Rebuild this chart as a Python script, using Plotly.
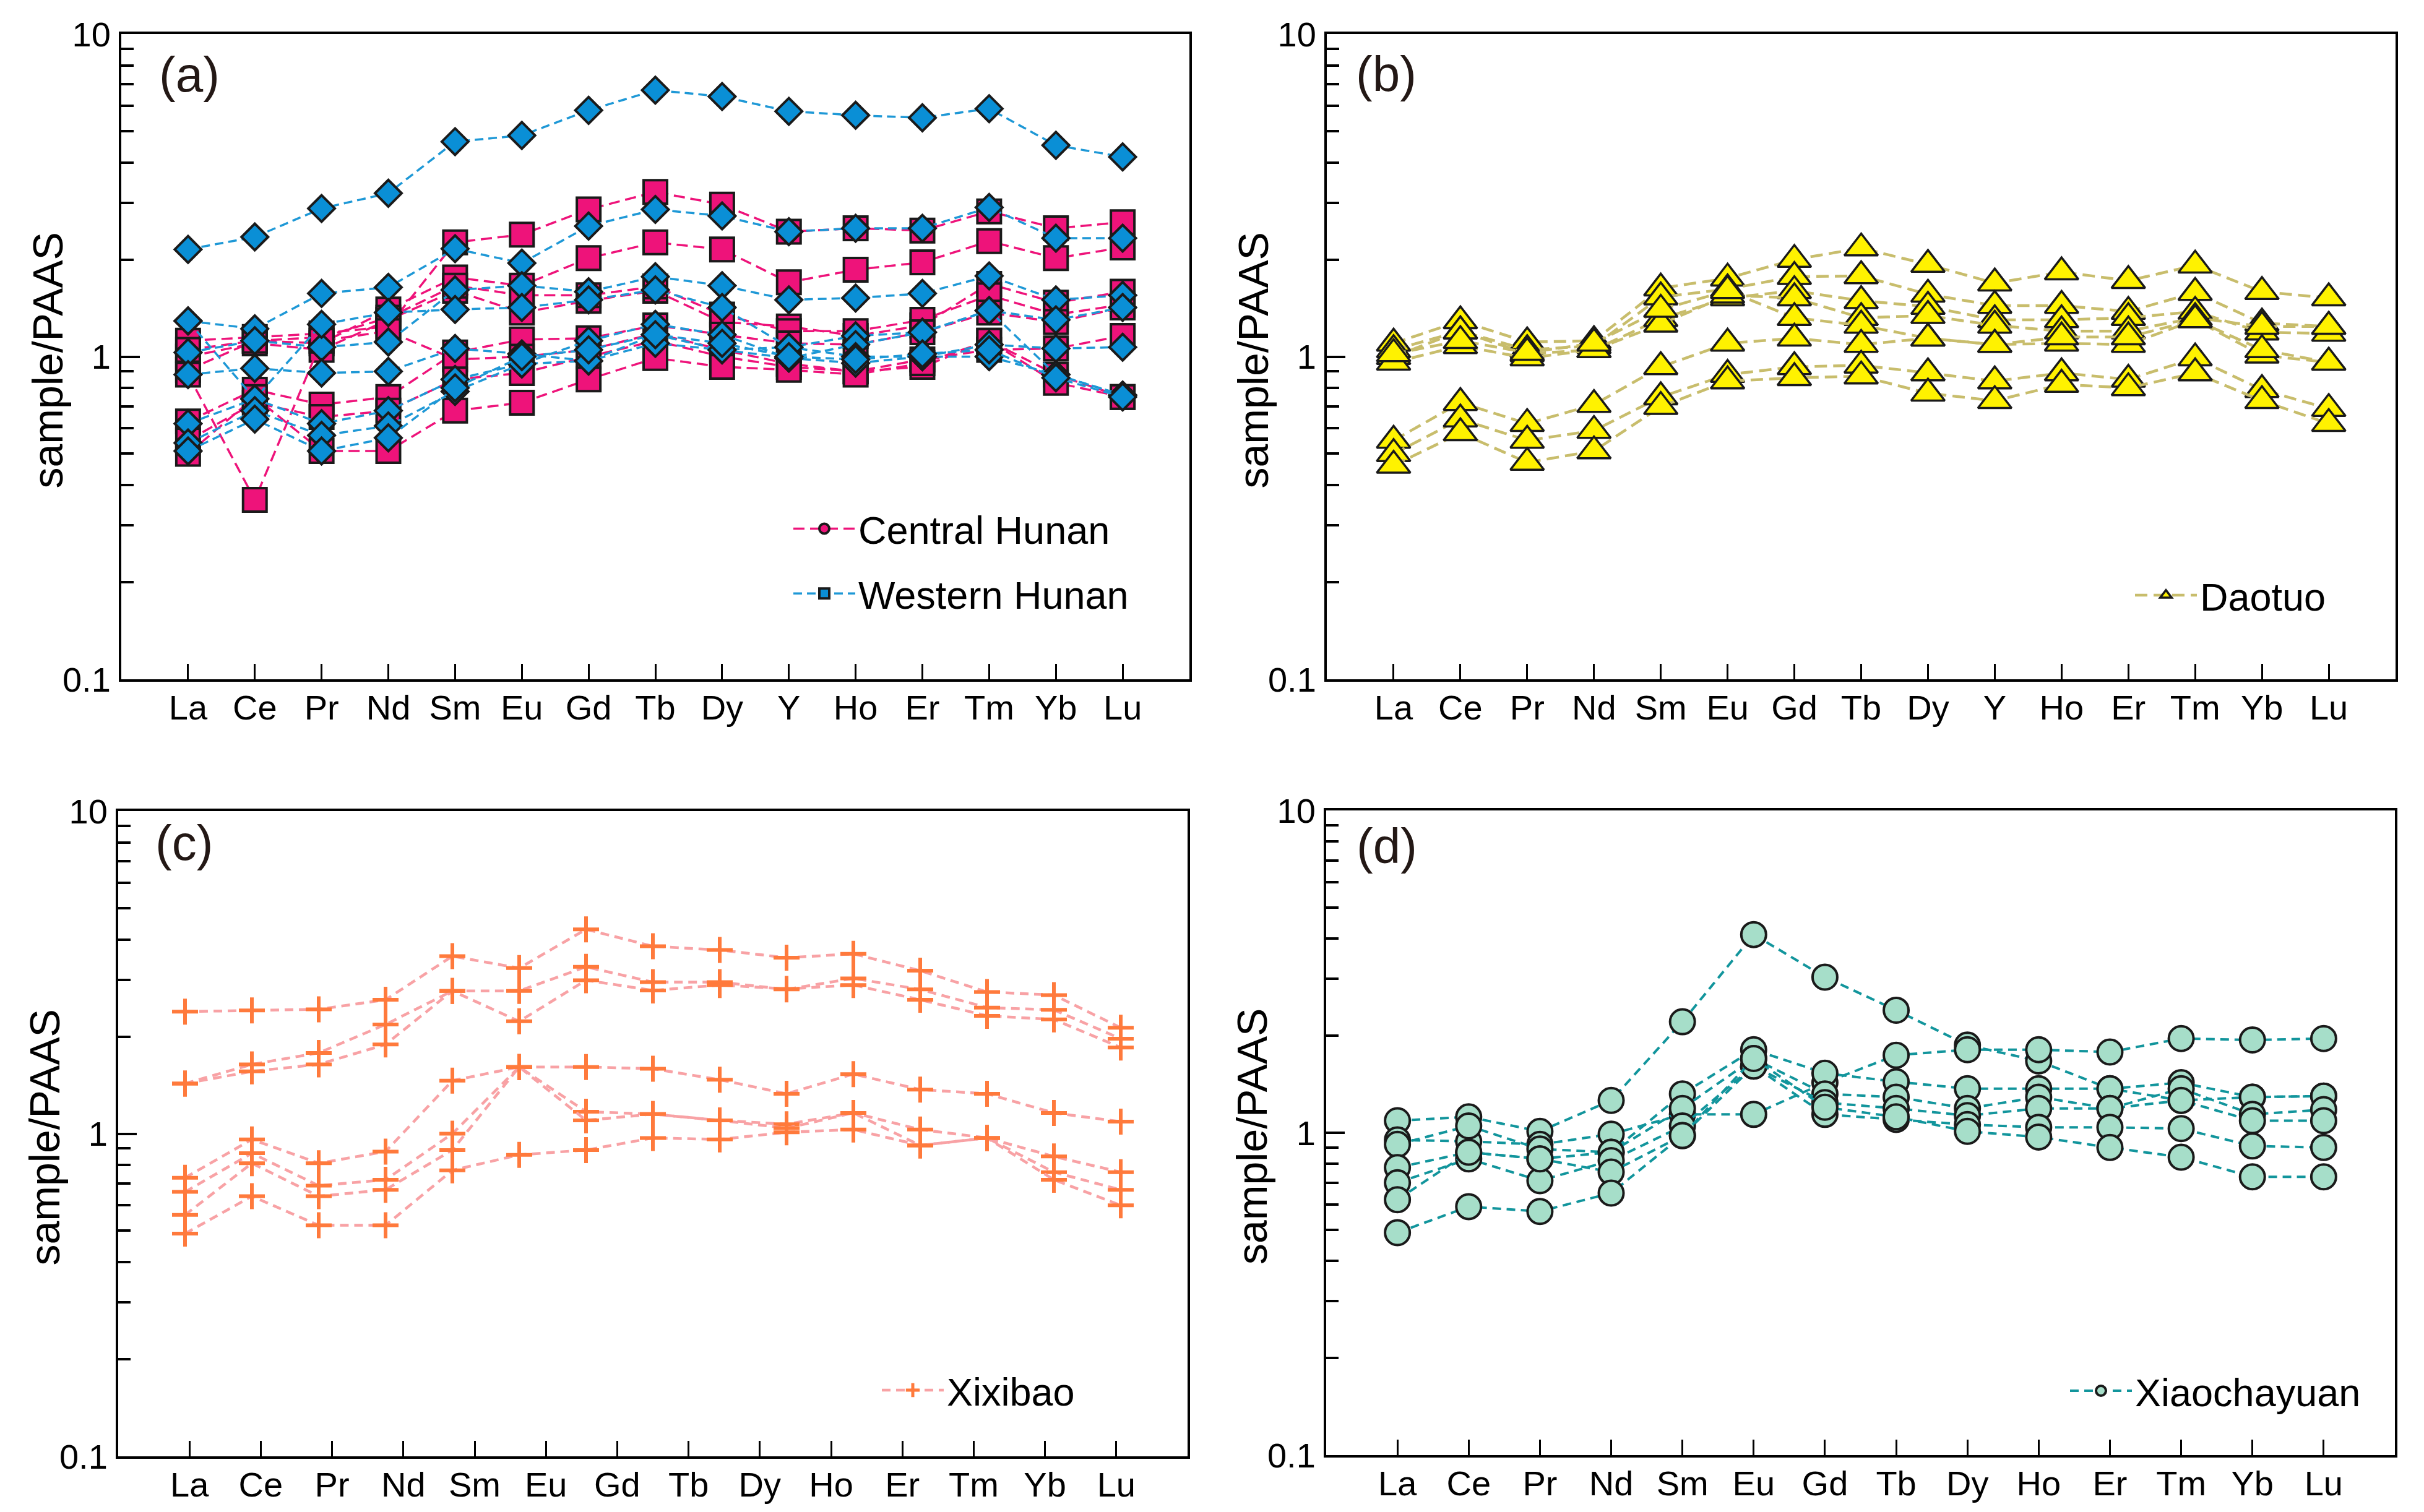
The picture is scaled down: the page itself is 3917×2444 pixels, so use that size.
import plotly.graph_objects as go

# ---------------- data ----------------
elements_15 = ["La", "Ce", "Pr", "Nd", "Sm", "Eu", "Gd", "Tb", "Dy", "Y", "Ho", "Er", "Tm", "Yb", "Lu"]
elements_14 = ["La", "Ce", "Pr", "Nd", "Sm", "Eu", "Gd", "Tb", "Dy", "Ho", "Er", "Tm", "Yb", "Lu"]

central_hunan = [
    [1.12, 1.15, 1.18, 1.24, 2.26, 2.39, 2.86, 3.24, 2.96, 2.44, 2.50, 2.46, 2.82, 2.50, 2.61],
    [0.91, 1.12, 1.10, 1.40, 1.76, 1.66, 2.02, 2.26, 2.15, 1.70, 1.86, 1.96, 2.28, 2.02, 2.18],
    [1.00, 1.10, 1.05, 1.30, 1.60, 1.37, 1.49, 1.60, 1.28, 1.24, 1.16, 1.25, 1.68, 1.47, 1.59],
    [1.05, 1.12, 1.15, 1.32, 1.66, 1.55, 1.55, 1.65, 1.35, 1.20, 1.20, 1.30, 1.55, 1.35, 1.45],
    [0.63, 0.79, 0.71, 0.75, 1.03, 1.13, 1.14, 1.25, 1.17, 1.10, 1.09, 1.19, 1.37, 1.28, 1.42],
    [0.88, 0.36, 1.12, 1.20, 0.98, 1.00, 1.05, 1.18, 1.05, 0.95, 0.90, 0.93, 1.12, 0.88, 0.75],
    [0.55, 0.72, 0.65, 0.68, 0.85, 0.89, 1.00, 1.12, 1.00, 0.93, 0.90, 0.98, 1.05, 1.06, 1.16],
    [0.50, 0.75, 0.51, 0.51, 0.68, 0.72, 0.85, 0.99, 0.93, 0.91, 0.88, 0.955, 1.12, 0.83, 0.75],
]
western_hunan = [
    [2.15, 2.35, 2.88, 3.21, 4.64, 4.85, 5.80, 6.70, 6.40, 5.76, 5.60, 5.50, 5.87, 4.52, 4.16],
    [1.29, 1.22, 1.57, 1.64, 2.16, 1.95, 2.54, 2.86, 2.73, 2.44, 2.50, 2.50, 2.90, 2.33, 2.33],
    [1.03, 1.12, 1.07, 1.11, 1.61, 1.66, 1.59, 1.77, 1.66, 1.50, 1.52, 1.57, 1.78, 1.50, 1.55],
    [0.88, 0.92, 0.89, 0.90, 1.06, 1.02, 0.97, 1.17, 1.05, 0.99, 0.955, 1.00, 1.09, 1.06, 1.07],
    [1.29, 0.74, 1.26, 1.37, 1.40, 1.42, 1.50, 1.61, 1.42, 1.07, 1.16, 1.19, 1.39, 1.30, 1.42],
    [0.62, 0.74, 0.62, 0.68, 0.85, 0.95, 1.12, 1.26, 1.17, 0.99, 1.09, 1.19, 1.39, 0.88, 0.76],
    [0.54, 0.68, 0.57, 0.61, 0.78, 0.95, 0.97, 1.10, 1.05, 1.07, 1.00, 1.00, 1.00, 0.88, 0.76],
    [0.51, 0.64, 0.51, 0.56, 0.80, 1.00, 1.05, 1.17, 1.10, 1.00, 0.98, 1.02, 1.05, 0.86, 0.75],
]
daotuo = [
    [1.10, 1.29, 1.11, 1.12, 1.63, 1.75, 2.00, 2.17, 1.93, 1.69, 1.83, 1.72, 1.92, 1.59, 1.52],
    [1.05, 1.20, 1.05, 1.08, 1.53, 1.62, 1.77, 1.78, 1.56, 1.44, 1.44, 1.38, 1.58, 1.27, 1.24],
    [1.00, 1.20, 1.02, 1.05, 1.31, 1.52, 1.60, 1.49, 1.43, 1.30, 1.30, 1.32, 1.38, 1.19, 1.18],
    [0.96, 1.08, 0.99, 1.05, 1.26, 1.55, 1.52, 1.32, 1.34, 1.25, 1.20, 1.20, 1.32, 1.24, 1.24],
    [1.02, 1.12, 1.03, 1.10, 1.40, 1.60, 1.32, 1.25, 1.14, 1.09, 1.10, 1.09, 1.30, 1.01, 0.96],
    [0.55, 0.72, 0.62, 0.71, 0.93, 1.10, 1.14, 1.09, 1.14, 1.09, 1.15, 1.15, 1.30, 1.05, 0.96],
    [0.50, 0.64, 0.55, 0.59, 0.75, 0.88, 0.93, 0.94, 0.89, 0.84, 0.89, 0.85, 0.99, 0.79, 0.69],
    [0.46, 0.58, 0.47, 0.51, 0.70, 0.84, 0.86, 0.87, 0.77, 0.73, 0.82, 0.80, 0.89, 0.73, 0.62],
]
xixibao = [
    [2.39, 2.41, 2.43, 2.60, 3.55, 3.26, 4.30, 3.81, 3.71, 3.51, 3.61, 3.20, 2.75, 2.69, 2.13],
    [1.43, 1.64, 1.78, 2.18, 2.77, 2.77, 3.29, 2.95, 2.95, 2.80, 3.03, 2.80, 2.46, 2.42, 1.97],
    [1.43, 1.56, 1.64, 1.89, 2.77, 2.23, 2.99, 2.78, 2.89, 2.81, 2.89, 2.60, 2.32, 2.26, 1.85],
    [0.73, 0.96, 0.81, 0.88, 1.46, 1.61, 1.61, 1.59, 1.47, 1.33, 1.53, 1.37, 1.33, 1.16, 1.09],
    [0.66, 0.87, 0.69, 0.72, 1.00, 1.61, 1.17, 1.15, 1.10, 1.07, 1.16, 1.03, 0.97, 0.85, 0.76],
    [0.56, 0.81, 0.64, 0.67, 0.89, 1.61, 1.10, 1.15, 1.10, 1.04, 1.16, 0.92, 0.97, 0.76, 0.67],
    [0.49, 0.64, 0.52, 0.52, 0.77, 0.86, 0.89, 0.97, 0.96, 1.01, 1.03, 0.92, 0.97, 0.72, 0.60],
]
xiaochayuan = [
    [1.09, 1.12, 1.01, 1.26, 2.21, 4.12, 3.04, 2.40, 1.87, 1.67, 1.37, 1.26, 1.29, 1.30],
    [0.95, 0.94, 0.92, 0.99, 1.14, 1.14, 1.43, 1.74, 1.81, 1.81, 1.78, 1.96, 1.94, 1.96],
    [0.92, 1.05, 0.89, 0.87, 1.32, 1.81, 1.53, 1.44, 1.37, 1.37, 1.37, 1.43, 1.29, 1.30],
    [0.78, 0.87, 0.83, 0.87, 1.19, 1.70, 1.32, 1.29, 1.19, 1.29, 1.19, 1.37, 1.14, 1.18],
    [0.70, 0.83, 0.71, 0.82, 1.05, 1.61, 1.24, 1.19, 1.13, 1.19, 1.19, 1.26, 1.09, 1.09],
    [0.62, 0.87, 0.83, 0.755, 0.98, 1.61, 1.14, 1.10, 1.06, 1.04, 1.04, 1.03, 0.91, 0.90],
    [0.49, 0.59, 0.57, 0.65, 0.98, 1.70, 1.20, 1.12, 1.01, 0.97, 0.90, 0.84, 0.73, 0.73],
]

# ---------------- styling ----------------
W, H = 3917, 2444
FONT = "Liberation Sans, Arial, sans-serif"
PINK = "#EE137A"
BLUE = "#0A8FD6"
BLUE_LINE = "#1E98D6"
YELLOW = "#FFF200"
KHAKI = "#C8BD6C"
ORANGE = "#FF7A3C"
SALMON = "#F8A2A5"
MINT = "#A6DEC9"
TEAL = "#12959C"

x15 = list(range(15))
x14 = list(range(1, 15))
# panel (c): the 14 tick labels are spread evenly over the frame, data sit on the 15-slot scale
xc_ticks = [-1 + 16 * j / 15 for j in range(1, 15)]


def dom_x(left, right):
    return [left / W, right / W]


def dom_y(top, bottom):
    return [1 - bottom / H, 1 - top / H]


fig = go.Figure()


def add_group(series, xs, xa, ya, color_line, marker, width, dash, legend, name, legend_marker):
    for s in series:
        fig.add_trace(go.Scatter(
            x=xs, y=s, xaxis=xa, yaxis=ya, mode="lines+markers",
            line=dict(color=color_line, width=width, dash=dash),
            marker=marker, showlegend=False, hoverinfo="skip"))
    fig.add_trace(go.Scatter(
        x=[None], y=[None], xaxis=xa, yaxis=ya, mode="lines+markers", name=name,
        line=dict(color=color_line, width=width, dash=dash),
        marker=legend_marker, legend=legend, legendgroup=name, showlegend=True))


edge = dict(color="#1a1a1a", width=4)

add_group(central_hunan, x15, "x", "y", PINK,
          dict(symbol="square", size=38, color=PINK, line=edge), 3.5, "18px,9px",
          "legend", "Central Hunan", dict(symbol="circle", size=38, color=PINK, line=edge))
add_group(western_hunan, x15, "x", "y", BLUE_LINE,
          dict(symbol="diamond", size=33, color=BLUE, line=edge), 3.5, "14px,8px",
          "legend", "Western Hunan", dict(symbol="square", size=38, color=BLUE, line=edge))
add_group(daotuo, x15, "x2", "y2", KHAKI,
          dict(symbol="triangle-up", size=47, color=YELLOW, line=dict(color="#1a1a1a", width=3.5)), 4.5, "20px,10px",
          "legend2", "Daotuo", dict(symbol="triangle-up", size=47, color=YELLOW, line=dict(color="#1a1a1a", width=3.5)))
add_group(xixibao, x15, "x3", "y3", SALMON,
          dict(symbol="cross-thin", size=30, color=ORANGE, line=dict(color=ORANGE, width=6)), 4.5, "14px,9px",
          "legend3", "Xixibao", dict(symbol="cross-thin", size=30, color=ORANGE, line=dict(color=ORANGE, width=6)))
add_group(xiaochayuan, x14, "x4", "y4", TEAL,
          dict(symbol="circle", size=40, color=MINT, line=edge), 4, "14px,9px",
          "legend4", "Xiaochayuan", dict(symbol="circle", size=40, color=MINT, line=edge))

tickfont = dict(family=FONT, size=56, color="black")
base_x = dict(showline=True, linecolor="black", linewidth=4, mirror=True, ticks="inside",
              ticklen=25, tickwidth=3, tickcolor="black", showgrid=False, zeroline=False,
              tickfont=tickfont, ticklabelstandoff=-6, fixedrange=True, automargin=False)
minor_vals = [v * m for v in (0.1, 1) for m in range(2, 10)]
base_y = dict(type="log", range=[-1, 1], showline=True, linecolor="black", linewidth=4, mirror=True,
              ticks="inside", ticklen=30, tickwidth=4, tickcolor="black", showgrid=False, zeroline=False,
              tickmode="array", tickvals=[0.1, 1, 10], ticktext=["0.1", "1", "10"],
              minor=dict(ticks="inside", ticklen=20, tickwidth=4, tickcolor="black",
                         tickmode="array", tickvals=minor_vals, showgrid=False),
              tickfont=tickfont, ticklabelstandoff=2, fixedrange=True, automargin=False)

frames = {
    "a": (196, 1922, 55, 1098),
    "b": (2144, 3871, 55, 1098),
    "c": (191, 1919, 1311, 2354),
    "d": (2143, 3870, 1310, 2352),
}

fig.update_layout(
    xaxis=dict(base_x, domain=dom_x(*frames["a"][:2]), range=[-1, 15], tickvals=x15, ticktext=elements_15, anchor="y"),
    yaxis=dict(base_y, domain=dom_y(*frames["a"][2:]), anchor="x"),
    xaxis2=dict(base_x, domain=dom_x(*frames["b"][:2]), range=[-1, 15], tickvals=x15, ticktext=elements_15, anchor="y2"),
    yaxis2=dict(base_y, domain=dom_y(*frames["b"][2:]), anchor="x2"),
    xaxis3=dict(base_x, domain=dom_x(*frames["c"][:2]), range=[-1, 15], tickvals=xc_ticks, ticktext=elements_14, anchor="y3"),
    yaxis3=dict(base_y, domain=dom_y(*frames["c"][2:]), anchor="x3"),
    xaxis4=dict(base_x, domain=dom_x(*frames["d"][:2]), range=[0, 15], tickvals=x14, ticktext=elements_14, anchor="y4"),
    yaxis4=dict(base_y, domain=dom_y(*frames["d"][2:]), anchor="x4"),
)

legend_common = dict(bgcolor="rgba(0,0,0,0)", borderwidth=0, font=dict(family=FONT, size=63, color="black"),
                     itemwidth=100, tracegroupgap=20, traceorder="grouped", xanchor="left", yanchor="middle")
fig.update_layout(
    legend=dict(legend_common, x=1277 / W, y=1 - 907 / H),
    legend2=dict(legend_common, x=3445 / W, y=1 - 962 / H),
    legend3=dict(legend_common, x=1420 / W, y=1 - 2247 / H),
    legend4=dict(legend_common, x=3340 / W, y=1 - 2248 / H),
)

# panel letters
labels = [("(a)", 306, 121), ("(b)", 2240, 119), ("(c)", 297, 1362), ("(d)", 2241, 1367)]
for text, px, py in labels:
    fig.add_annotation(text=text, x=px / W, y=1 - py / H, xref="paper", yref="paper", showarrow=False,
                       font=dict(family=FONT, size=80, color="#231815"), xanchor="center", yanchor="middle")

# y-axis titles
for key in "abcd":
    left, right, top, bottom = frames[key]
    fig.add_annotation(text="sample/PAAS", x=(left - 120) / W, y=1 - ((top + bottom) / 2 + 6) / H,
                       xref="paper", yref="paper", showarrow=False, textangle=-90,
                       font=dict(family=FONT, size=68, color="black"), xanchor="center", yanchor="middle")

fig.update_layout(autosize=True, margin=dict(l=0, r=0, t=0, b=0, pad=0),
                  paper_bgcolor="white", plot_bgcolor="white", font=dict(family=FONT, color="black"))

fig.write_html("out.html", config={"displayModeBar": False, "staticPlot": True, "responsive": True},
               default_width="100vw", default_height="100vh",
               post_script="document.body.style.margin='0';document.body.style.overflow='hidden';")
